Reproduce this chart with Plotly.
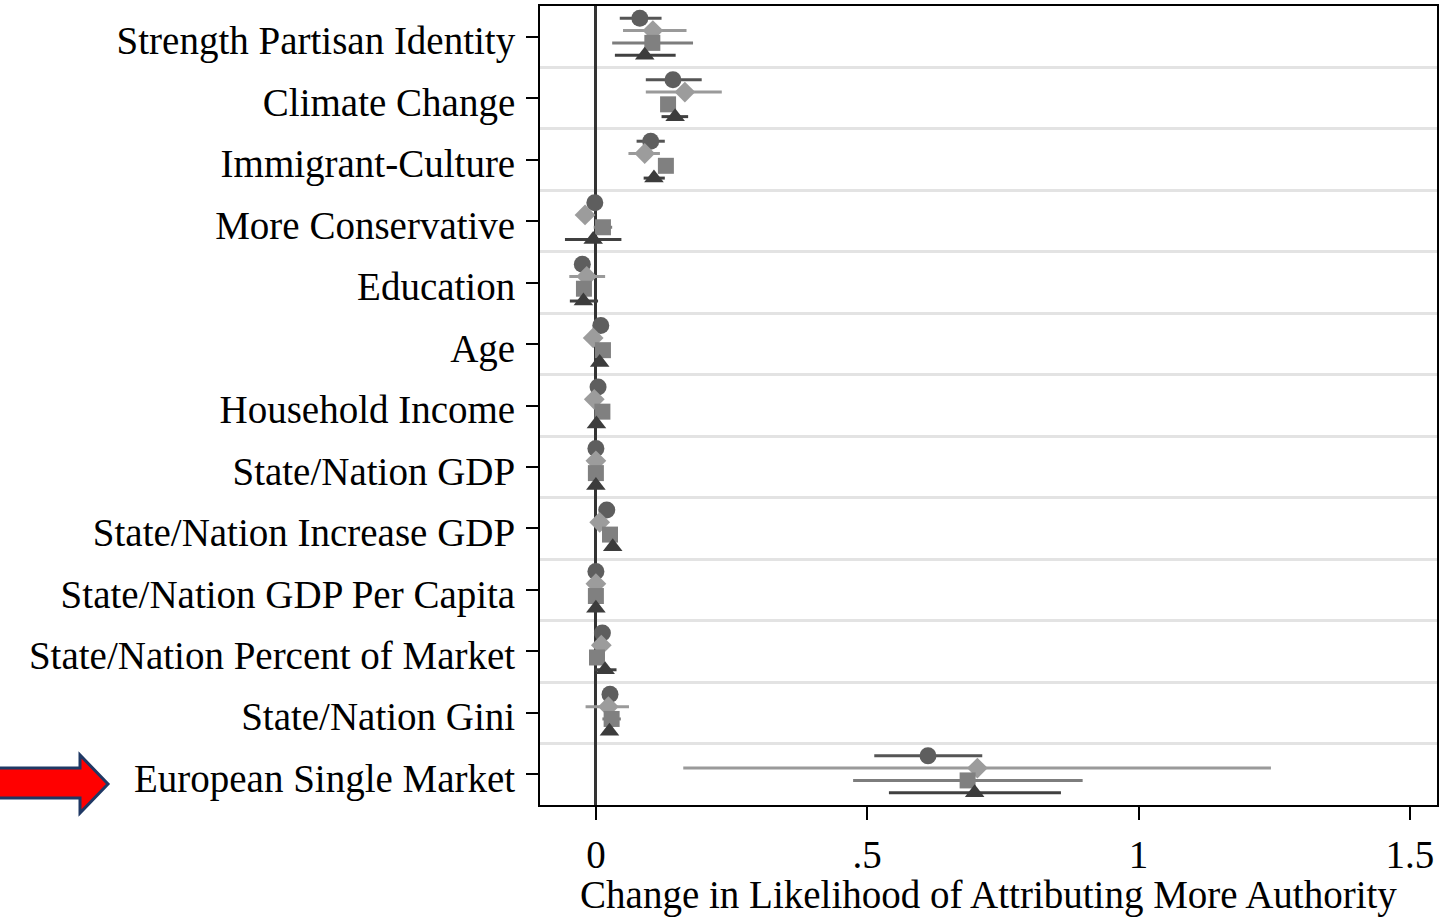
import plotly.graph_objects as go

categories = ["Strength Partisan Identity", "Climate Change", "Immigrant-Culture",
              "More Conservative", "Education", "Age", "Household Income",
              "State/Nation GDP", "State/Nation Increase GDP", "State/Nation GDP Per Capita",
              "State/Nation Percent of Market", "State/Nation Gini", "European Single Market"]

circle_est = [0.081, 0.142, 0.101, -0.002, -0.025, 0.009, 0.004, 0.000, 0.020, 0.000, 0.012, 0.026, 0.612]
circle_lo  = [0.044, 0.092, 0.075, -0.010, -0.033, 0.003, -0.002, -0.004, 0.012, -0.003, 0.005, 0.018, 0.513]
circle_hi  = [0.121, 0.195, 0.127, 0.006, -0.017, 0.015, 0.010, 0.004, 0.028, 0.003, 0.019, 0.034, 0.712]

diamond_est = [0.105, 0.164, 0.090, -0.020, -0.017, -0.005, -0.003, 0.000, 0.007, 0.000, 0.010, 0.023, 0.703]
diamond_lo  = [0.050, 0.092, 0.060, -0.030, -0.049, -0.012, -0.010, -0.006, -0.002, -0.006, 0.002, -0.019, 0.161]
diamond_hi  = [0.167, 0.232, 0.118, -0.010, 0.017, 0.002, 0.004, 0.006, 0.016, 0.006, 0.018, 0.061, 1.244]

square_est = [0.104, 0.133, 0.129, 0.013, -0.022, 0.013, 0.012, 0.000, 0.026, 0.000, 0.002, 0.029, 0.685]
square_lo  = [0.030, 0.120, 0.118, -0.004, -0.030, 0.006, 0.005, -0.004, 0.017, -0.004, -0.006, 0.012, 0.474]
square_hi  = [0.179, 0.146, 0.140, 0.030, -0.014, 0.020, 0.019, 0.004, 0.035, 0.004, 0.010, 0.046, 0.897]

triangle_est = [0.090, 0.146, 0.107, -0.005, -0.023, 0.007, 0.001, 0.000, 0.031, 0.000, 0.017, 0.025, 0.698]
triangle_lo  = [0.035, 0.121, 0.088, -0.057, -0.048, 0.001, -0.005, -0.004, 0.022, -0.004, -0.003, 0.017, 0.540]
triangle_hi  = [0.147, 0.170, 0.127, 0.047, 0.004, 0.013, 0.007, 0.004, 0.040, 0.004, 0.038, 0.033, 0.857]

x_tickvals = [0, 0.5, 1, 1.5]
x_ticktext = ["0", ".5", "1", "1.5"]
x_title = "Change in Likelihood of Attributing More Authority"

FONT = "Liberation Serif"
W, H = 1449, 917
ML, MR, MT, MB = 540, 12, 6, 112

series = [
    ("circle", circle_est, circle_lo, circle_hi, -0.3, "#5e5e5e", "#555555", 17),
    ("diamond", diamond_est, diamond_lo, diamond_hi, -0.1, "#9c9c9c", "#9a9a9a", 16),
    ("square", square_est, square_lo, square_hi, 0.1, "#808080", "#7d7d7d", 16),
    ("triangle-up", triangle_est, triangle_lo, triangle_hi, 0.3, "#3c3c3c", "#404040", 17),
]

fig = go.Figure()
for sym, est, lo, hi, off, mcol, lcol, size in series:
    fig.add_trace(go.Scatter(
        x=est,
        y=[i + off for i in range(len(categories))],
        mode="markers",
        marker=dict(symbol=sym, size=size, color=mcol, line=dict(width=0)),
        error_x=dict(type="data", symmetric=False,
                     array=[h - e for h, e in zip(hi, est)],
                     arrayminus=[e - l for e, l in zip(est, lo)],
                     color=lcol, thickness=3, width=0),
        showlegend=False,
        hoverinfo="skip",
    ))

# arrow (pixel coords -> paper coords)
def px(x, y):
    return (x - ML) / (W - ML - MR), (H - MB - y) / (H - MT - MB)

pts = [(-2, 768), (80, 768), (80, 755), (108, 784), (80, 813), (80, 798), (-2, 798)]
path = "M " + " L ".join("%.5f,%.5f" % px(x, y) for x, y in pts) + " Z"
fig.add_shape(type="path", path=path, xref="paper", yref="paper",
              fillcolor="#ff0000", line=dict(color="#1f3864", width=3), layer="above")

fig.update_layout(
    width=W, height=H,
    margin=dict(l=ML, r=MR, t=MT, b=MB, autoexpand=False),
    plot_bgcolor="white", paper_bgcolor="white",
    font=dict(family=FONT, size=39, color="black"),
    showlegend=False,
)
fig.update_xaxes(
    range=[-0.103, 1.55],
    tickvals=x_tickvals, ticktext=x_ticktext,
    ticks="outside", ticklen=13, tickwidth=2, tickcolor="black",
    ticklabelstandoff=1,
    showgrid=False,
    zeroline=True, zerolinecolor="#333333", zerolinewidth=2.5,
    showline=True, linecolor="black", linewidth=2, mirror=True,
    title=dict(text=x_title, font=dict(family=FONT, size=39), standoff=5),
    automargin=False,
)
fig.update_yaxes(
    range=[len(categories) - 0.5, -0.5],
    tickvals=list(range(len(categories))), ticktext=categories,
    ticks="outside", ticklen=12, tickwidth=2, tickcolor="black",
    ticklabelstandoff=3, ticklabelshift=-4,
    showgrid=False, zeroline=False,
    minor=dict(tick0=0.5, dtick=1, showgrid=True, gridcolor="#e3e3e3", gridwidth=3, ticks=""),
    showline=True, linecolor="black", linewidth=2, mirror=True,
    automargin=False,
)

fig.write_html("out.html", config={"displayModeBar": False},
               post_script="document.body.style.margin='0px';document.body.style.overflow='hidden';")
